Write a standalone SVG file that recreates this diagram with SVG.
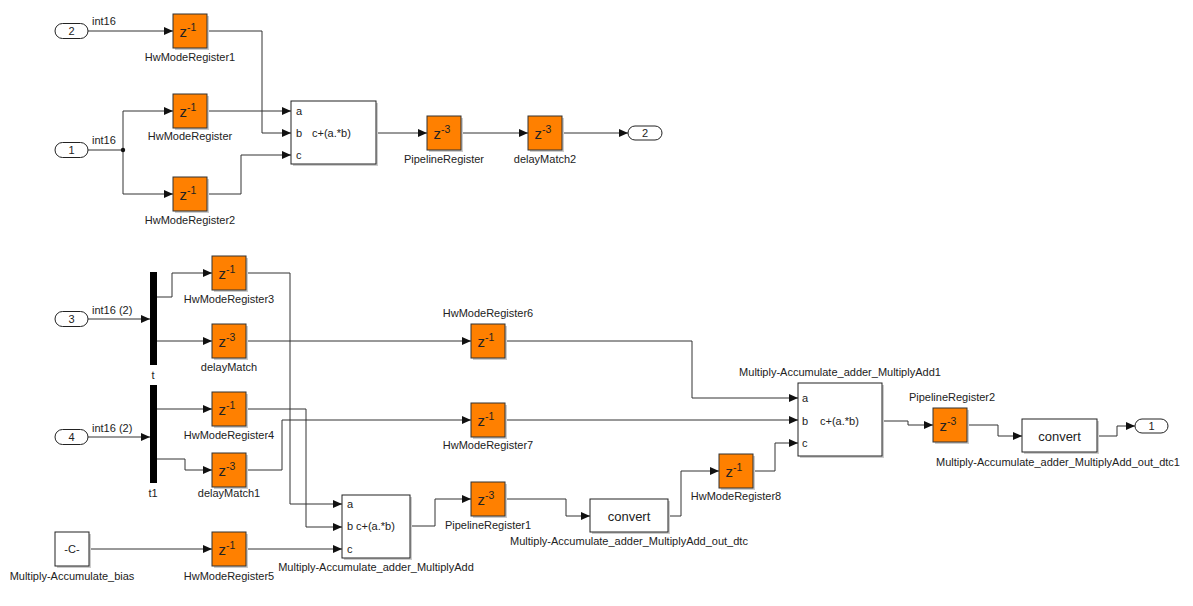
<svg xmlns="http://www.w3.org/2000/svg" width="1193" height="606" viewBox="0 0 1193 606">
<style>
text{font-family:"Liberation Sans",Arial,sans-serif;fill:#222}
.lbl{font-size:11px;text-anchor:middle}
.sig{font-size:11px}
.reg{fill:#ff8000;stroke:#333;stroke-width:1}
.box{fill:#fff;stroke:#222;stroke-width:1}
.sh{fill:#ccc}
.z{font-size:15px;text-anchor:middle}
.zs{font-size:10.5px}
.port{fill:#fff;stroke:#222;stroke-width:1}
.pn{font-size:11px;text-anchor:middle}
.pl{font-size:11px}
.wire{fill:none;stroke:#333;stroke-width:1}
.arr{marker-end:url(#ah)}
</style>
<defs>
<marker id="ah" markerUnits="userSpaceOnUse" markerWidth="9" markerHeight="8" refX="9" refY="4" orient="auto">
<path d="M0,0 L9,4 L0,8 z" fill="#111"/>
</marker>
</defs>
<rect width="1193" height="606" fill="#fff"/>

<g id="connectors">
<path class="wire arr" d="M88,31 H173"/>
<path class="wire arr" d="M207,31 H262 V133 H291"/>
<path class="wire" d="M88,150 H123"/>
<path class="wire arr" d="M123,150 V111 H173"/>
<path class="wire arr" d="M123,150 V194 H173"/>
<circle cx="123" cy="150" r="2.2" fill="#111"/>
<path class="wire arr" d="M207,111 H291"/>
<path class="wire arr" d="M207,194 H241 V155 H291"/>
<path class="wire arr" d="M376,133 H427"/>
<path class="wire arr" d="M461,133 H528"/>
<path class="wire arr" d="M562,133 H628"/>

<path class="wire arr" d="M88,319 H150"/>
<path class="wire arr" d="M157,297 H172 V273 H212"/>
<path class="wire arr" d="M157,341 H212"/>
<path class="wire arr" d="M88,437 H150"/>
<path class="wire arr" d="M157,409 H212"/>
<path class="wire arr" d="M157,459 H185 V470 H212"/>
<path class="wire arr" d="M246,273 H290 V504 H342"/>
<path class="wire arr" d="M246,341 H471"/>
<path class="wire arr" d="M246,409 H306 V527 H342"/>
<path class="wire arr" d="M246,470 H282 V420 H471"/>
<path class="wire arr" d="M89,549 H212"/>
<path class="wire arr" d="M246,549 H342"/>
<path class="wire arr" d="M410,526 H435 V499 H471"/>
<path class="wire arr" d="M505,499 H566 V516 H590"/>
<path class="wire arr" d="M668,516 H681 V471 H719"/>
<path class="wire arr" d="M753,471 H775 V443 H798"/>
<path class="wire arr" d="M505,341 H692 V398 H798"/>
<path class="wire arr" d="M505,420 H798"/>
<path class="wire arr" d="M882,421 H908 V425 H933"/>
<path class="wire arr" d="M967,425 H998 V436 H1022"/>
<path class="wire arr" d="M1097,436 H1117 V426 H1135"/>
<text class="sig" x="92" y="25">int16</text>
<text class="sig" x="92" y="144">int16</text>
<text class="sig" x="92" y="314">int16 (2)</text>
<text class="sig" x="92" y="432">int16 (2)</text>
</g>

<g id="In2"><rect class="port" x="55" y="23.5" width="33" height="15" rx="7.5"/><text class="pn" x="71.5" y="35">2</text></g>
<g id="In1"><rect class="port" x="55" y="142.5" width="33" height="15" rx="7.5"/><text class="pn" x="71.5" y="154">1</text></g>
<g id="In3"><rect class="port" x="55" y="311.5" width="33" height="15" rx="7.5"/><text class="pn" x="71.5" y="323">3</text></g>
<g id="In4"><rect class="port" x="55" y="429.5" width="33" height="15" rx="7.5"/><text class="pn" x="71.5" y="441">4</text></g>
<g id="Out2"><rect class="port" x="628" y="126" width="34" height="14" rx="7"/><text class="pn" x="645" y="137">2</text></g>
<g id="Out1"><rect class="port" x="1135" y="419" width="33" height="14" rx="7"/><text class="pn" x="1151.5" y="430">1</text></g>

<g id="HwModeRegister1"><rect class="sh" x="175" y="16" width="34" height="34"/><rect class="reg" x="173" y="14" width="34" height="34"/><text class="z" x="188" y="37">z<tspan class="zs" dy="-6">-1</tspan></text><text class="lbl" x="190" y="61">HwModeRegister1</text></g>
<g id="HwModeRegister"><rect class="sh" x="175" y="96" width="34" height="34"/><rect class="reg" x="173" y="94" width="34" height="34"/><text class="z" x="188" y="117">z<tspan class="zs" dy="-6">-1</tspan></text><text class="lbl" x="190" y="140">HwModeRegister</text></g>
<g id="HwModeRegister2"><rect class="sh" x="175" y="179" width="34" height="34"/><rect class="reg" x="173" y="177" width="34" height="34"/><text class="z" x="188" y="200">z<tspan class="zs" dy="-6">-1</tspan></text><text class="lbl" x="190" y="224">HwModeRegister2</text></g>

<g id="MultiplyAdd_top"><rect class="sh" x="293" y="103" width="85" height="63"/><rect class="box" x="291" y="101" width="85" height="63"/>
<text class="pl" x="296" y="115">a</text><text class="pl" x="296" y="137">b</text><text class="pl" x="296" y="159">c</text><text class="pl" x="312" y="137">c+(a.*b)</text></g>

<g id="PipelineRegister"><rect class="sh" x="429" y="118" width="34" height="34"/><rect class="reg" x="427" y="116" width="34" height="34"/><text class="z" x="442" y="139">z<tspan class="zs" dy="-6">-3</tspan></text><text class="lbl" x="444" y="163">PipelineRegister</text></g>
<g id="delayMatch2"><rect class="sh" x="530" y="118" width="34" height="34"/><rect class="reg" x="528" y="116" width="34" height="34"/><text class="z" x="543" y="139">z<tspan class="zs" dy="-6">-3</tspan></text><text class="lbl" x="545" y="163">delayMatch2</text></g>

<g id="t"><rect x="150" y="272" width="7" height="93" fill="#000"/><text class="lbl" x="153" y="379">t</text></g>
<g id="t1"><rect x="150" y="385" width="7" height="98" fill="#000"/><text class="lbl" x="153" y="497">t1</text></g>

<g id="HwModeRegister3"><rect class="sh" x="214" y="258" width="34" height="34"/><rect class="reg" x="212" y="256" width="34" height="34"/><text class="z" x="227" y="279">z<tspan class="zs" dy="-6">-1</tspan></text><text class="lbl" x="229" y="303">HwModeRegister3</text></g>
<g id="delayMatch"><rect class="sh" x="214" y="326" width="34" height="34"/><rect class="reg" x="212" y="324" width="34" height="34"/><text class="z" x="227" y="347">z<tspan class="zs" dy="-6">-3</tspan></text><text class="lbl" x="229" y="371">delayMatch</text></g>
<g id="HwModeRegister4"><rect class="sh" x="214" y="394" width="34" height="34"/><rect class="reg" x="212" y="392" width="34" height="34"/><text class="z" x="227" y="415">z<tspan class="zs" dy="-6">-1</tspan></text><text class="lbl" x="229" y="439">HwModeRegister4</text></g>
<g id="delayMatch1"><rect class="sh" x="214" y="455" width="34" height="34"/><rect class="reg" x="212" y="453" width="34" height="34"/><text class="z" x="227" y="476">z<tspan class="zs" dy="-6">-3</tspan></text><text class="lbl" x="229" y="497">delayMatch1</text></g>

<g id="Multiply-Accumulate_bias"><rect class="sh" x="57" y="534" width="34" height="34"/><rect class="box" x="55" y="532" width="34" height="34"/><text class="pn" x="72" y="553">-C-</text><text class="lbl" x="72" y="580">Multiply-Accumulate_bias</text></g>
<g id="HwModeRegister5"><rect class="sh" x="214" y="534" width="34" height="34"/><rect class="reg" x="212" y="532" width="34" height="34"/><text class="z" x="227" y="555">z<tspan class="zs" dy="-6">-1</tspan></text><text class="lbl" x="229" y="580">HwModeRegister5</text></g>

<g id="Multiply-Accumulate_adder_MultiplyAdd"><rect class="sh" x="344" y="497" width="68" height="63"/><rect class="box" x="342" y="495" width="68" height="63"/>
<text class="pl" x="347" y="508">a</text><text class="pl" x="347" y="530">b</text><text class="pl" x="347" y="553">c</text><text class="pl" x="356" y="530">c+(a.*b)</text>
<text class="lbl" x="376" y="571">Multiply-Accumulate_adder_MultiplyAdd</text></g>

<g id="HwModeRegister6"><rect class="sh" x="473" y="326" width="34" height="34"/><rect class="reg" x="471" y="324" width="34" height="34"/><text class="z" x="486" y="347">z<tspan class="zs" dy="-6">-1</tspan></text><text class="lbl" x="488" y="317">HwModeRegister6</text></g>
<g id="HwModeRegister7"><rect class="sh" x="473" y="405" width="34" height="34"/><rect class="reg" x="471" y="403" width="34" height="34"/><text class="z" x="486" y="426">z<tspan class="zs" dy="-6">-1</tspan></text><text class="lbl" x="488" y="449">HwModeRegister7</text></g>
<g id="PipelineRegister1"><rect class="sh" x="473" y="484" width="34" height="34"/><rect class="reg" x="471" y="482" width="34" height="34"/><text class="z" x="486" y="505">z<tspan class="zs" dy="-6">-3</tspan></text><text class="lbl" x="488" y="529">PipelineRegister1</text></g>

<g id="Multiply-Accumulate_adder_MultiplyAdd_out_dtc"><rect class="sh" x="592" y="501" width="78" height="33"/><rect class="box" x="590" y="499" width="78" height="33"/><text x="629" y="521" font-size="13" text-anchor="middle">convert</text><text class="lbl" x="629" y="545">Multiply-Accumulate_adder_MultiplyAdd_out_dtc</text></g>
<g id="HwModeRegister8"><rect class="sh" x="721" y="456" width="34" height="34"/><rect class="reg" x="719" y="454" width="34" height="34"/><text class="z" x="734" y="477">z<tspan class="zs" dy="-6">-1</tspan></text><text class="lbl" x="736" y="500">HwModeRegister8</text></g>

<g id="Multiply-Accumulate_adder_MultiplyAdd1"><rect class="sh" x="800" y="385" width="84" height="73"/><rect class="box" x="798" y="383" width="84" height="73"/>
<text class="pl" x="802" y="402">a</text><text class="pl" x="802" y="425">b</text><text class="pl" x="802" y="447">c</text><text class="pl" x="820" y="425">c+(a.*b)</text>
<text class="lbl" x="840" y="376">Multiply-Accumulate_adder_MultiplyAdd1</text></g>
<g id="PipelineRegister2"><rect class="sh" x="935" y="410" width="34" height="34"/><rect class="reg" x="933" y="408" width="34" height="34"/><text class="z" x="948" y="431">z<tspan class="zs" dy="-6">-3</tspan></text><text class="lbl" x="952" y="401">PipelineRegister2</text></g>
<g id="Multiply-Accumulate_adder_MultiplyAdd_out_dtc1"><rect class="sh" x="1024" y="421" width="75" height="33"/><rect class="box" x="1022" y="419" width="75" height="33"/><text x="1059.5" y="441" font-size="13" text-anchor="middle">convert</text><text class="lbl" x="1058" y="466">Multiply-Accumulate_adder_MultiplyAdd_out_dtc1</text></g>
</svg>
